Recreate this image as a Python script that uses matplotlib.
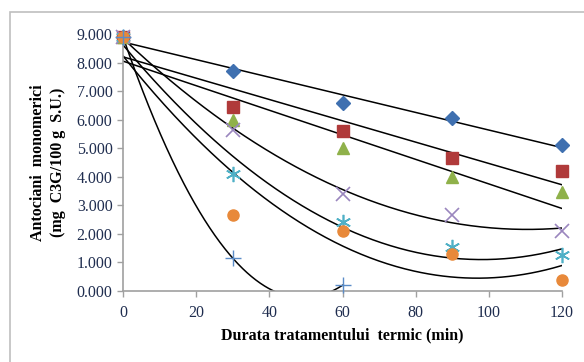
import numpy as np
import matplotlib
matplotlib.use('Agg')
import matplotlib.pyplot as plt
from matplotlib.patches import Rectangle

# Time points (min) and measured values for each series
time = [0, 30, 60, 90, 120]
time_short = [0, 30, 60]
diamond = [8.90, 7.70, 6.60, 6.05, 5.10]
square = [8.90, 6.45, 5.60, 4.65, 4.20]
triangle = [8.90, 6.00, 5.00, 4.00, 3.45]
cross = [8.90, 5.65, 3.40, 2.65, 2.10]
star = [8.90, 4.10, 2.40, 1.55, 1.25]
circle = [8.90, 2.65, 2.10, 1.30, 0.40]
plus = [8.90, 1.15, 0.20]

y_ticks = [0, 1, 2, 3, 4, 5, 6, 7, 8, 9]
x_ticks = [0, 20, 40, 60, 80, 100, 120]

plt.rcParams['font.family'] = ['Liberation Serif', 'DejaVu Serif']

fig = plt.figure(figsize = (5.84, 3.62), dpi = 100)
fig.patches.append(Rectangle((10 / 584, -0.05), 1.0, 1 - 12 / 362 + 0.05, transform = fig.transFigure,
                             fill = False, edgecolor = '#BFBFBF', linewidth = 1.2))
ax = fig.add_axes([123 / 584, 1 - 291 / 362, 439 / 584, 257 / 362])

# series: (x, y, marker style, trendline degree)
series = [
    (time, diamond, dict(marker = 'D', color = '#3F70B0', ms = 7), 1),
    (time, square, dict(marker = 's', color = '#B03A3A', ms = 8), 1),
    (time, triangle, dict(marker = '^', color = '#8FB14A', ms = 9), 1),
    (time, cross, dict(marker = 'x', color = '#9A86BE', ms = 10, mew = 1.2), 2),
    (time, star, dict(marker = (6, 2, 0), color = '#4FB0C6', ms = 11, mew = 1.2), 2),
    (time, circle, dict(marker = 'o', color = '#E8893A', ms = 8), 2),
    (time_short, plus, dict(marker = '+', color = '#5B8CC8', ms = 12, mew = 1.0), 2),
]

for x, y, style, deg in series:
    coef = np.polyfit(x, y, deg)
    xs = np.linspace(min(x), max(x), 300)
    ax.plot(xs, np.polyval(coef, xs), color = 'black', linewidth = 1.1, zorder = 2)

for x, y, style, deg in series:
    ax.plot(x, y, linestyle = 'none', markeredgecolor = style['color'], zorder = 3, clip_on = False, **style)

ax.set_xlim(0, 120)
ax.set_ylim(0, 9)
ax.set_xticks(x_ticks)
ax.set_yticks(y_ticks)
ax.set_yticklabels(['{:.3f}'.format(v) for v in y_ticks])
ax.tick_params(labelsize = 11.5, labelcolor = '#1F2D4F', color = '#A0A0A0', length = 4, width = 1)
ax.tick_params(axis = 'x', pad = 6)
for s in ('top', 'right'):
    ax.spines[s].set_visible(False)
for s in ('left', 'bottom'):
    ax.spines[s].set_color('#A0A0A0')
    ax.spines[s].set_linewidth(1.2)

ax.set_xlabel('Durata tratamentului  termic (min)', fontsize = 11.5, fontweight = 'bold', labelpad = 5)
ax.set_ylabel('Antociani  monomerici\n(mg  C3G/100 g  S.U.)', fontsize = 11.5, fontweight = 'bold',
              labelpad = 8, linespacing = 1.3)

fig.savefig('out.png', dpi = 100)
